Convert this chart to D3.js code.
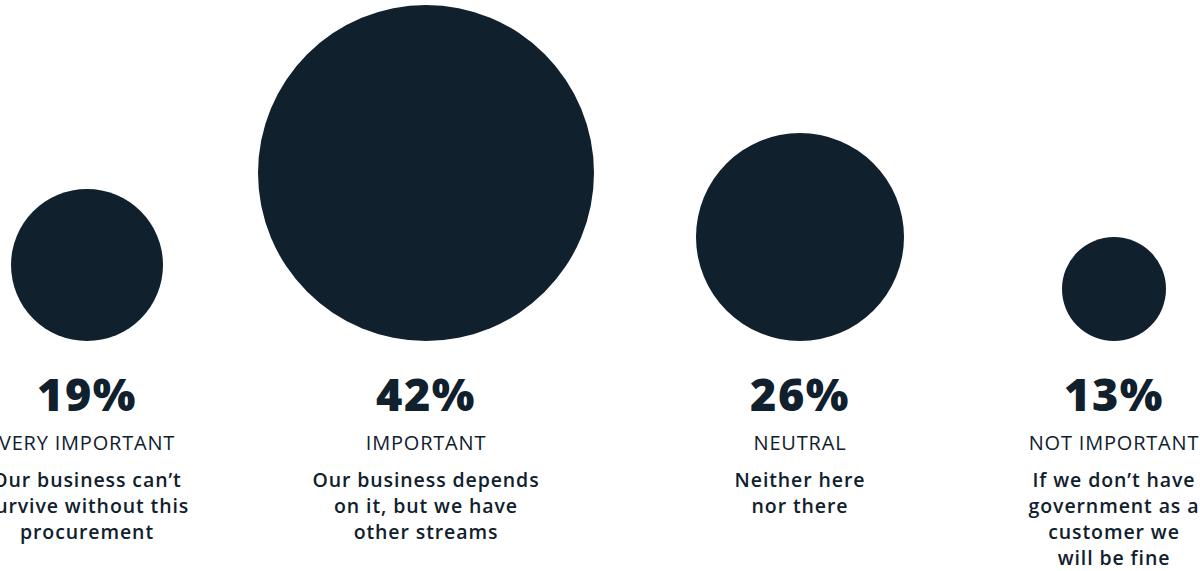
<!DOCTYPE html>
<html>
<head>
<meta charset="utf-8">
<script src="https://cdn.jsdelivr.net/npm/d3@7"></script>
<style>
  html, body { margin: 0; padding: 0; background: #ffffff; }
  svg { display: block; }
</style>
</head>
<body>
<svg id="chart" width="1200" height="571"></svg>
<script>
// Share of respondents by how important government procurement is
const categories = ["VERY IMPORTANT", "IMPORTANT", "NEUTRAL", "NOT IMPORTANT"];
const values = [19, 42, 26, 13];
const descriptions = [
  ["Our business can’t", "survive without this", "procurement"],
  ["Our business depends", "on it, but we have", "other streams"],
  ["Neither here", "nor there"],
  ["If we don’t have", "government as a", "customer we", "will be fine"]
];

const ink = "#10202d";
const font = "'Open Sans', 'DejaVu Sans', sans-serif";

const svg = d3.select("#chart");

// horizontal placement of each column centre
const x = d3.scaleOrdinal()
  .domain(categories)
  .range([87, 426, 800, 1114]);

// circle radius grows linearly with the percentage
const r = d3.scaleLinear().domain([0, 42]).range([0, 168]);

const baseY = 341; // all circles rest on this line

const cols = svg.selectAll("g.col")
  .data(categories.map((c, i) => ({ cat: c, value: values[i], desc: descriptions[i] })))
  .join("g")
  .attr("class", "col")
  .attr("transform", d => `translate(${x(d.cat)},0)`);

cols.append("circle")
  .attr("cx", 0)
  .attr("cy", d => baseY - r(d.value))
  .attr("r", d => r(d.value))
  .attr("fill", ink);

cols.append("text")
  .attr("y", 411)
  .attr("text-anchor", "middle")
  .attr("font-family", font)
  .attr("font-weight", 800)
  .attr("font-size", 45)
  .attr("letter-spacing", 1.5)
  .attr("fill", ink)
  .text(d => d.value + "%");

cols.append("text")
  .attr("y", 450)
  .attr("text-anchor", "middle")
  .attr("font-family", font)
  .attr("font-weight", 500)
  .attr("font-size", 20)
  .attr("letter-spacing", 0.8)
  .attr("fill", ink)
  .text(d => d.cat);

cols.append("text")
  .attr("text-anchor", "middle")
  .attr("font-family", font)
  .attr("font-weight", 600)
  .attr("font-size", 19.5)
  .attr("letter-spacing", 0.9)
  .attr("fill", ink)
  .selectAll("tspan")
  .data(d => d.desc)
  .join("tspan")
  .attr("x", 0)
  .attr("y", (d, i) => 487 + i * 26)
  .text(d => d);
</script>
</body>
</html>
